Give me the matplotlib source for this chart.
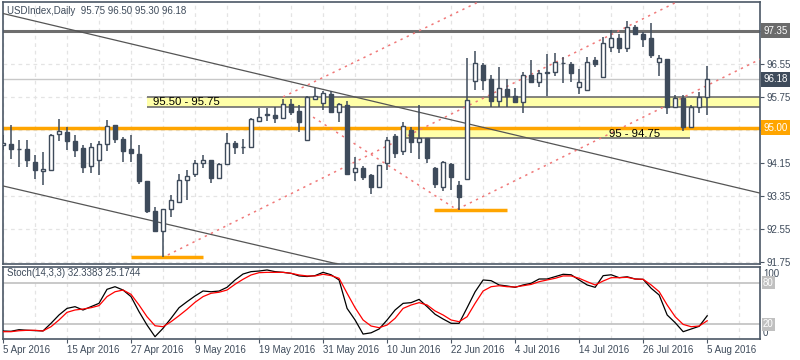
import numpy as np
import matplotlib
matplotlib.use("Agg")
import matplotlib.pyplot as plt
import matplotlib.transforms as mtransforms

plt.rcParams['font.family'] = ['Liberation Sans', 'DejaVu Sans']

# ---- daily candles, 5 Apr 2016 .. 5 Aug 2016 (weekdays) ----
opens = [94.58, 94.61, 94.49, 94.49, 94.17, 93.95, 93.99, 94.84, 94.90, 94.68,
         94.50, 94.08, 94.22, 94.60, 95.07, 94.73, 94.49, 94.37, 93.72, 92.99,
         92.51, 93.03, 93.21, 93.73, 93.87, 94.14, 94.22, 93.78, 94.12, 94.63,
         94.53, 94.54, 95.17, 95.34, 95.31, 95.23, 95.58, 95.42, 94.71, 95.70,
         95.60, 95.82, 95.39, 95.56, 93.92, 94.02, 93.86, 93.57, 94.16, 94.80,
         94.45, 94.95, 94.65, 94.75, 94.02, 93.56, 94.12, 93.62, 93.75, 96.14,
         96.52, 96.18, 95.66, 95.94, 95.77, 95.63, 96.28, 96.12, 96.34, 96.35,
         96.57, 96.55, 95.98, 95.92, 96.65, 96.23, 96.97, 97.17, 96.93, 97.44,
         97.28, 97.17, 96.59, 96.67, 95.51, 95.72, 95.03, 95.50, 95.75]
highs = [94.82, 95.07, 94.71, 94.71, 94.34, 94.42, 94.86, 95.21, 95.03, 94.83,
         94.58, 94.64, 94.69, 95.19, 95.07, 94.79, 94.83, 94.58, 93.72, 93.09,
         93.03, 93.37, 93.87, 93.98, 94.22, 94.34, 94.22, 94.14, 94.87, 94.69,
         94.72, 95.23, 95.49, 95.49, 95.51, 95.69, 95.69, 95.55, 95.76, 95.96,
         95.90, 95.90, 95.61, 95.66, 94.29, 94.08, 93.87, 94.11, 94.79, 94.85,
         95.15, 95.03, 95.55, 94.75, 94.06, 94.20, 94.16, 93.70, 96.70, 96.86,
         96.57, 96.28, 96.48, 96.18, 95.96, 96.36, 96.65, 96.40, 96.80, 96.82,
         96.71, 96.60, 96.42, 96.71, 96.71, 97.21, 97.37, 97.28, 97.59, 97.49,
         97.33, 97.55, 96.77, 96.67, 95.80, 95.80, 95.55, 95.88, 96.50]
lows = [94.46, 94.25, 94.04, 94.04, 93.75, 93.62, 93.96, 94.69, 94.46, 94.29,
        93.90, 93.90, 93.85, 94.45, 94.64, 94.17, 94.18, 93.64, 92.94, 92.49,
        91.88, 92.83, 93.17, 93.25, 93.82, 94.02, 93.66, 93.78, 94.10, 94.37,
        94.37, 94.53, 95.13, 95.17, 95.11, 95.21, 95.31, 94.91, 94.69, 95.68,
        95.43, 95.37, 95.15, 93.88, 93.72, 93.74, 93.40, 93.56, 93.98, 94.26,
        94.34, 94.40, 94.25, 94.16, 93.54, 93.47, 93.49, 93.00, 93.74, 95.92,
        95.92, 95.51, 95.51, 95.50, 95.63, 95.37, 96.09, 95.98, 95.77, 96.25,
        96.08, 96.10, 95.83, 95.92, 96.47, 96.23, 96.85, 96.81, 96.85, 97.27,
        96.97, 96.69, 96.26, 95.34, 95.47, 94.93, 95.03, 95.37, 95.30]
closes = [94.63, 94.48, 94.48, 94.23, 93.97, 94.00, 94.82, 94.92, 94.67, 94.46,
          94.06, 94.53, 94.60, 95.05, 94.74, 94.45, 94.40, 93.72, 92.99, 92.51,
          93.03, 93.25, 93.74, 93.83, 94.14, 94.22, 93.79, 94.12, 94.63, 94.53,
          94.54, 95.21, 95.27, 95.30, 95.23, 95.58, 95.39, 95.13, 95.74, 95.76,
          95.84, 95.39, 95.57, 93.88, 94.02, 93.82, 93.57, 94.09, 94.70, 94.40,
          95.05, 94.66, 94.76, 94.28, 93.64, 94.18, 93.82, 93.32, 95.68, 96.57,
          96.16, 95.65, 95.96, 95.76, 95.63, 96.28, 96.10, 96.34, 96.34, 96.59,
          96.57, 96.34, 96.10, 96.60, 96.55, 97.05, 97.17, 96.93, 97.44, 97.27,
          97.16, 96.76, 96.69, 95.51, 95.72, 95.03, 95.51, 95.74, 96.18]

# ---- Stochastic(14,3,3) ----
stoch_k = [10.4, 10.0, 12.3, 11.5, 11.0, 10.5, 21.5, 33.5, 43.0, 45.5,
           40.7, 45.5, 50.3, 70.5, 74.3, 69.5, 60.0, 38.3, 19.0, 2.2,
           14.3, 28.7, 44.0, 52.7, 60.9, 68.1, 67.0, 68.0, 73.4, 84.0,
           92.6, 96.0, 96.9, 98.4, 96.0, 95.0, 93.6, 89.8, 89.0, 90.3,
           95.0, 91.5, 84.0, 43.0, 26.3, 6.0, 7.8, 13.3, 26.3, 40.7,
           50.3, 51.3, 56.0, 45.5, 34.5, 27.7, 21.5, 21.5, 44.0, 67.0,
           84.0, 83.0, 76.8, 75.3, 73.4, 76.8, 79.2, 85.4, 85.4, 88.8,
           92.2, 91.5, 84.0, 76.8, 73.4, 90.2, 91.5, 87.3, 88.6, 85.4,
           84.9, 72.0, 62.3, 33.5, 22.4, 9.4, 13.3, 17.2, 32.34]
stoch_d = [9.4, 9.4, 10.8, 11.4, 11.4, 10.5, 16.6, 26.3, 37.3, 40.7,
           42.1, 44.0, 47.0, 60.0, 67.0, 69.5, 63.3, 47.9, 31.0, 18.0,
           16.6, 23.8, 32.5, 41.7, 51.8, 60.0, 64.8, 66.3, 69.5, 77.8,
           85.0, 91.2, 94.5, 95.0, 95.0, 95.0, 93.6, 91.2, 89.8, 89.8,
           92.2, 90.3, 86.4, 64.8, 44.0, 26.3, 17.6, 15.2, 19.0, 28.7,
           43.0, 47.9, 51.3, 47.9, 39.3, 33.5, 26.3, 23.8, 31.0, 50.3,
           68.1, 74.3, 75.7, 74.3, 73.9, 75.7, 77.6, 81.5, 84.0, 86.4,
           89.8, 89.8, 86.4, 81.5, 76.8, 82.5, 87.3, 87.3, 87.8, 85.4,
           84.9, 76.8, 67.1, 47.9, 31.0, 19.9, 16.6, 17.6, 25.17]

date_labels = ['5 Apr 2016', '15 Apr 2016', '27 Apr 2016', '9 May 2016',
               '19 May 2016', '31 May 2016', '10 Jun 2016', '22 Jun 2016',
               '4 Jul 2016', '14 Jul 2016', '26 Jul 2016', '5 Aug 2016']
price_ticks = [97.35, 96.55, 95.75, 94.95, 94.15, 93.35, 92.55, 91.75]

# drawn objects (bar index, price)
resistance = 97.35
support = 95.00
zone_hi = (95.50, 95.75)
zone_lo = (94.75, 95.00)
low_apr = 91.88
low_jun = 93.00
chan_upper = [(-0.4, 97.79), (95.0, 93.40)]
chan_lower = [(-0.4, 93.61), (50.0, 91.33)]
red_lines = [[(20.6, 91.92), (84.2, 98.05)],
             [(35.0, 95.75), (59.4, 98.05)],
             [(38.75, 95.26), (56.3, 93.07)],
             [(56.8, 93.03), (95.0, 96.70)]]

DARK = '#3e4b5b'
TXT = '#3e4b5b'
ORANGE = '#ffa500'
YEL = '#ffffa8'
GRIDC = '#e4e4e4'
FS = 7.0

n = len(opens)
x = np.arange(n)

fig = plt.figure(figsize=(8, 3.6), dpi=100)
L, R = 2.5 / 800, 760 / 800
ax = fig.add_axes([L, 1 - 264 / 360, R - L, (264 - 2) / 360])
ax2 = fig.add_axes([L, 1 - 338.5 / 360, R - L, (338.5 - 267) / 360])

for a in (ax, ax2):
    for s in a.spines.values():
        s.set_color('#4c5866')
        s.set_linewidth(1.2)
    a.set_xlim(-0.06, 94.6)
    for g in range(0, 95, 4):
        a.axvline(g, color=GRIDC, lw=0.9, ls=(0, (3, 3)), zorder=0)

# ---- main panel ----
ax.set_ylim(91.70, 98.05)
for p in price_ticks:
    ax.axhline(p, color=GRIDC, lw=0.9, ls=(0, (3, 3)), zorder=0)

ax.axhline(closes[-1], color='#c8c8c8', lw=1, zorder=1)

ax.fill_between([18, 94.6], zone_hi[0], zone_hi[1], color=YEL, zorder=1, lw=0)
ax.hlines(zone_hi, 18, 94.6, color='#6e6e6e', lw=1.2, zorder=2)
ax.fill_between([50.25, 85.9], zone_lo[0], zone_lo[1], color=YEL, zorder=1, lw=0)
ax.hlines(zone_lo[0], 50.25, 85.9, color='#6e6e6e', lw=1.2, zorder=2)

ax.axhline(resistance, color='#6e6e6e', lw=2.2, zorder=2)
ax.axhline(support, color=ORANGE, lw=2.5, zorder=2)
ax.hlines(low_apr, 16, 25, color=ORANGE, lw=2.5, zorder=2)
ax.hlines(low_jun, 53.8, 63, color=ORANGE, lw=2.5, zorder=2)

for seg in (chan_upper, chan_lower):
    ax.plot([seg[0][0], seg[1][0]], [seg[0][1], seg[1][1]], color='#555555', lw=0.9, zorder=3)
for seg in red_lines:
    ax.plot([seg[0][0], seg[1][0]], [seg[0][1], seg[1][1]], color='#f07878',
            lw=1.1, ls=(0, (1.5, 3)), zorder=3)

o = np.array(opens); c = np.array(closes)
up = c >= o
ax.vlines(x, lows, highs, color=DARK, lw=1.1, zorder=4)
bottom = np.minimum(o, c)
height = np.maximum(np.abs(c - o), 0.012)
ax.bar(x[up], height[up], bottom=bottom[up], width=0.5, facecolor='white',
       edgecolor=DARK, lw=1.0, zorder=5)
ax.bar(x[~up], height[~up], bottom=bottom[~up], width=0.5, facecolor=DARK,
       edgecolor=DARK, lw=1.0, zorder=5)

ax.text(18.75, 95.63, '95.50 - 95.75', fontsize=8.2, color='black', va='center', zorder=6)
ax.text(75.75, 94.85, '95 - 94.75', fontsize=8.2, color='black', va='center', zorder=6)
ax.text(0.006, 0.985, 'USDIndex,Daily  95.75 96.50 95.30 96.18', transform=ax.transAxes,
        fontsize=FS, color=TXT, va='top', ha='left')

ax.yaxis.tick_right()
ax.set_yticks(price_ticks)
ax.set_yticklabels(['', '96.55', '95.75', '', '94.15', '93.35', '92.55', '91.75'])
ax.tick_params(axis='y', length=3, color='#4c5866', labelsize=FS, labelcolor=TXT, pad=2)
ax.set_xticks([])

tr = mtransforms.blended_transform_factory(ax.transAxes, ax.transData)
for val, bg in ((resistance, '#6b6b6b'), (closes[-1], DARK), (support, ORANGE)):
    ax.text(1.004, val, f'{val:.2f}', transform=tr, fontsize=FS, color='white',
            va='center', ha='left', clip_on=False, zorder=10,
            bbox=dict(boxstyle='square,pad=0.25', fc=bg, ec='none'))

# ---- stochastic panel ----
ax2.set_ylim(-0.4, 102.7)
ax2.axhline(80, color='#c0c0c0', lw=1.2, zorder=1)
ax2.axhline(20, color='#c0c0c0', lw=1.2, zorder=1)
ax2.plot(x, stoch_k, color='black', lw=0.9, zorder=3)
ax2.plot(x, stoch_d, color='red', lw=0.9, zorder=3)
ax2.text(0.006, 0.91, 'Stoch(14,3,3) 32.3383 25.1744', transform=ax2.transAxes,
         fontsize=FS, color=TXT, va='center', ha='left')
ax2.set_yticks([])
tr2 = mtransforms.blended_transform_factory(ax2.transAxes, ax2.transData)
ax2.text(1.004, 100, '100', transform=tr2, fontsize=FS, color=TXT, va='top', clip_on=False)
ax2.text(1.004, 0, '0', transform=tr2, fontsize=FS, color=TXT, va='bottom', clip_on=False)
for lv in (80, 20):
    ax2.text(1.004, lv, str(lv), transform=tr2, fontsize=FS, color='white', va='center',
             clip_on=False, bbox=dict(boxstyle='square,pad=0.15', fc='#c0c0c0', ec='none'))

ax2.set_xticks(np.arange(len(date_labels)) * 8)
ax2.set_xticklabels(date_labels, ha='left')
ax2.tick_params(axis='x', length=3, color='#4c5866', labelsize=FS, labelcolor=TXT, pad=2)

fig.savefig('out.png', dpi=100, facecolor='white')
